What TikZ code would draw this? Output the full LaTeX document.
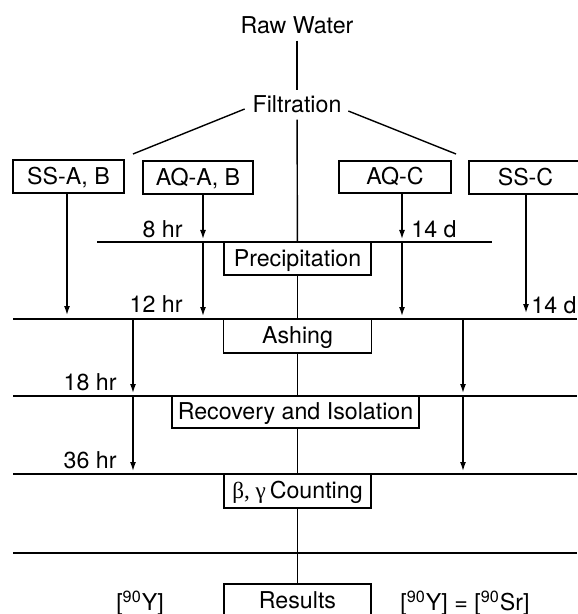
\documentclass[tikz,border=0pt]{standalone}
\usepackage{fontspec}
\setmainfont{TeX Gyre Heros}
\newfontfamily\grk{Liberation Serif}
\usetikzlibrary{arrows.meta}
\newcommand{\lbl}{\fontsize{11.6}{13.5}\selectfont}

\begin{document}
\begin{tikzpicture}[
  x=0.5pt, y=-0.5pt,
  txt/.style={font=\lbl, text height=7.8pt, text depth=0pt, inner sep=3.25pt},
  box/.style={draw, line width=0.7pt, font=\lbl, text height=7.8pt, text depth=0pt,
    inner sep=0pt, minimum height=16.5pt},
  note/.style={font=\lbl, text height=7.8pt, text depth=0pt, inner sep=0pt},
  rule/.style={line width=0.7pt},
  arr/.style={-{Latex[length=4.5pt,width=3pt]}, line width=0.7pt, shorten >=1.5pt},
]
\useasboundingbox (0,0) rectangle (577,614);

\node[txt] (raw)  at (297,26)  {Raw Water};
\node[txt] (filt) at (297,105) {Filtration};
\draw[rule] (raw) -- (filt);

% sample fractions
\node[box, minimum width=55.5pt] (ssab) at (68.5,176.5) {SS-A, B};
\node[box, minimum width=55pt]   (aqab) at (198,177.5)  {AQ-A, B};
\node[box, minimum width=56pt, minimum height=16pt] (aqc) at (395,177) {AQ-C};
\node[box, minimum width=56.5pt] (ssc)  at (525.5,177.5) {SS-C};

\coordinate (forkL) at (133,154);
\coordinate (forkR) at (456,154);
\draw[rule] ([shift={(-1,4)}]filt.west) -- (forkL);
\draw[rule] ([shift={(0,6)}]filt.east) -- (forkR);

% time lines
\coordinate (precL) at (97,242);  \coordinate (precR) at (492,242);
\coordinate (ashL)  at (13,319);  \coordinate (ashR)  at (577,319);
\coordinate (recL)  at (13,396);  \coordinate (recR)  at (577,396);
\coordinate (cntL)  at (13,474);  \coordinate (cntR)  at (577,474);
\coordinate (resL)  at (13,553);  \coordinate (resR)  at (577,553);
\foreach \r in {prec,ash,rec,cnt,res}
  \draw[rule] (\r L) -- (\r R);

% process steps
\node[box, minimum width=73.5pt] (prec) at (297.5,258.5) {Precipitation};
\node[box, minimum width=74pt, minimum height=17pt] (ash) at (297.5,336) {Ashing};
\node[box, minimum width=123.5pt, minimum height=16pt] (rec) at (295.5,412)
  {Recovery and Isolation};
\node[box, minimum width=73.5pt, minimum height=17pt] (cnt) at (297.5,491)
  {{\grk β, γ}\,Counting};
\node[box, minimum width=73.5pt, minimum height=17pt] (res) at (297.5,601) {Results};

\draw[rule] (filt) -- (prec);
\draw[rule] (prec) -- (ash);
\draw[rule] (ash) -- (ash |- rec.north);
\draw[rule] (rec.south -| ash) -- (cnt);
\draw[rule] (cnt) -- (res);

% decay arrows
\coordinate (ssabO) at ([xshift=-0.75pt]ssab.south);
\coordinate (aqabO) at ([xshift=2.5pt]aqab.south);
\coordinate (aqcO)  at ([xshift=3.5pt]aqc.south);
\coordinate (sscO)  at ([xshift=0.25pt]ssc.south);
\draw[arr, shorten >=2pt] (ssabO) -- (ssabO |- ashL);
\draw[arr] (aqabO) -- (aqabO |- precL);
\draw[arr] (aqabO |- precL) -- (aqabO |- ashL);
\draw[arr] (aqcO) -- (aqcO |- precL);
\draw[arr] (aqcO |- precL) -- (aqcO |- ashL);
\draw[arr, shorten >=3pt] (sscO) -- (sscO |- ashL);

\coordinate (dropL) at (133,319);
\coordinate (dropR) at (463,319);
\draw[arr] (dropL) -- (dropL |- recL);
\draw[arr] (dropL |- recL) -- (dropL |- cntL);
\draw[arr] (dropR) -- (dropR |- recL);
\draw[arr] (dropR |- recL) -- (dropR |- cntL);

\node[note, anchor=east] (t8)   at (183,230) {8 hr};
\node[note, anchor=west] (t14a) at (411,230) {14 d};
\node[note, anchor=east] (t12)  at (183,305) {12 hr};
\node[note, anchor=west] (t14b) at (531,306) {14 d};
\node[note, anchor=east] (t18)  at (117,383) {18 hr};
\node[note, anchor=east] (t36)  at (117,461) {36 hr};
\node[note] (y90)  at (140,603) {[\textsuperscript{90}Y]};
\node[note] (sr90) at (465,603) {[\textsuperscript{90}Y] = [\textsuperscript{90}Sr]};

\end{tikzpicture}
\end{document}
